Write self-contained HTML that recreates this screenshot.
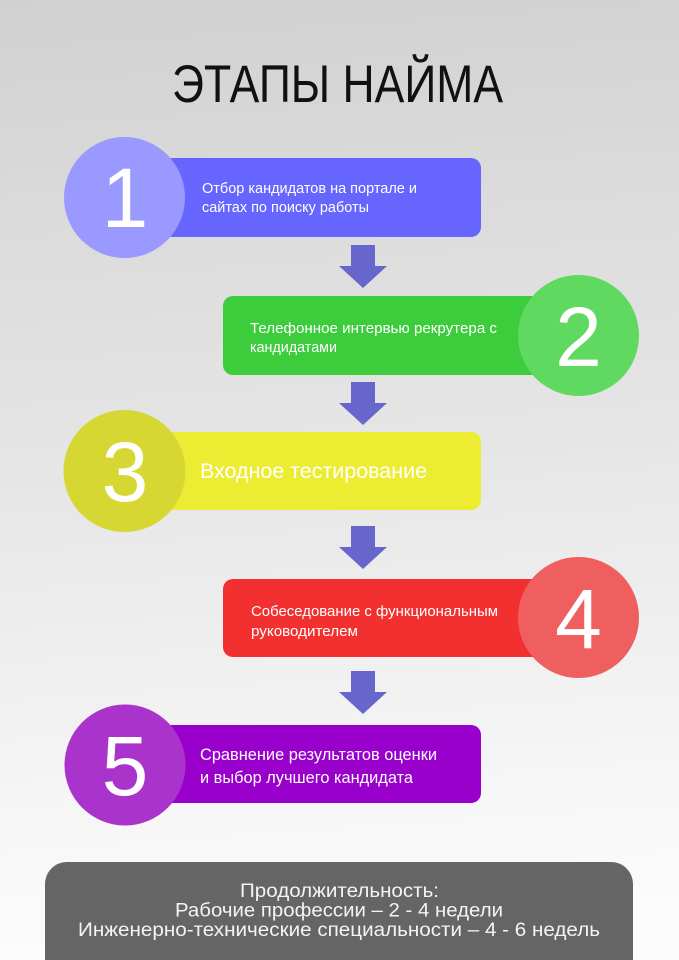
<!DOCTYPE html>
<html>
<head>
<meta charset="utf-8">
<style>
html,body{margin:0;padding:0;background:#e6e6e6;}
body{width:679px;height:960px;overflow:hidden;}
svg{display:block;}
text{font-family:"Liberation Sans","Noto Sans CJK JP",sans-serif;}
</style>
</head>
<body>
<svg width="679" height="960" viewBox="0 0 679 960" xmlns="http://www.w3.org/2000/svg">
  <defs>
    <linearGradient id="bg" x1="0" y1="0" x2="0.05" y2="1">
      <stop offset="0" stop-color="#d1d1d1"/>
      <stop offset="0.5" stop-color="#e6e6e6"/>
      <stop offset="0.8" stop-color="#f4f4f4"/>
      <stop offset="1" stop-color="#fcfcfc"/>
    </linearGradient>
  </defs>
  <rect x="0" y="0" width="679" height="960" fill="url(#bg)"/>

  <!-- Title -->
  <text x="172" y="102" font-size="53" fill="#111" textLength="331" lengthAdjust="spacingAndGlyphs">ЭТАПЫ НАЙМА</text>

  <!-- Step 1 -->
  <rect x="150" y="158" width="331" height="79" rx="10" fill="#6666ff"/>
  <circle cx="124.5" cy="197.5" r="60.5" fill="#9999ff"/>
  <text x="125" y="227" font-size="84" fill="#fff" text-anchor="middle">1</text>
  <text x="202" y="193" font-size="15" fill="#fff" textLength="215" lengthAdjust="spacingAndGlyphs">Отбор кандидатов на портале и</text>
  <text x="202" y="212" font-size="15" fill="#fff" textLength="167" lengthAdjust="spacingAndGlyphs">сайтах по поиску работы</text>

  <!-- Arrow 1 -->
  <polygon points="351,245 375,245 375,266 387,266 363,288 339,266 351,266" fill="#6666cc"/>

  <!-- Step 2 -->
  <rect x="223" y="296" width="350" height="79" rx="10" fill="#3ccc3c"/>
  <circle cx="578.5" cy="335.5" r="60.5" fill="#5fd95f"/>
  <text x="578.5" y="366" font-size="84" fill="#fff" text-anchor="middle">2</text>
  <text x="250" y="333" font-size="15" fill="#fff" textLength="247" lengthAdjust="spacingAndGlyphs">Телефонное интервью рекрутера с</text>
  <text x="250" y="352" font-size="15" fill="#fff" textLength="87" lengthAdjust="spacingAndGlyphs">кандидатами</text>

  <!-- Arrow 2 -->
  <polygon points="351,382 375,382 375,403 387,403 363,425 339,403 351,403" fill="#6666cc"/>

  <!-- Step 3 -->
  <rect x="150" y="432" width="331" height="78" rx="10" fill="#ecec33"/>
  <circle cx="124.5" cy="471" r="61" fill="#d7d733"/>
  <text x="125" y="501" font-size="84" fill="#fff" text-anchor="middle">3</text>
  <text x="200" y="478" font-size="21" fill="#fff" textLength="227" lengthAdjust="spacingAndGlyphs">Входное тестирование</text>

  <!-- Arrow 3 -->
  <polygon points="351,526 375,526 375,547 387,547 363,569 339,547 351,547" fill="#6666cc"/>

  <!-- Step 4 -->
  <rect x="223" y="579" width="350" height="78" rx="10" fill="#f23030"/>
  <circle cx="578.5" cy="617.5" r="60.5" fill="#f05f5f"/>
  <text x="578.5" y="648" font-size="84" fill="#fff" text-anchor="middle">4</text>
  <text x="251" y="616" font-size="15" fill="#fff" textLength="247" lengthAdjust="spacingAndGlyphs">Собеседование с функциональным</text>
  <text x="251" y="636" font-size="15" fill="#fff" textLength="107" lengthAdjust="spacingAndGlyphs">руководителем</text>

  <!-- Arrow 4 -->
  <polygon points="351,671 375,671 375,692 387,692 363,714 339,692 351,692" fill="#6666cc"/>

  <!-- Step 5 -->
  <rect x="150" y="725" width="331" height="78" rx="10" fill="#9900cc"/>
  <circle cx="125" cy="765" r="60.5" fill="#aa33cc"/>
  <text x="125" y="795" font-size="84" fill="#fff" text-anchor="middle">5</text>
  <text x="200" y="760" font-size="16.5" fill="#fff" textLength="237" lengthAdjust="spacingAndGlyphs">Сравнение результатов оценки</text>
  <text x="200" y="783" font-size="16.5" fill="#fff" textLength="213" lengthAdjust="spacingAndGlyphs">и выбор лучшего кандидата</text>

  <!-- Bottom box -->
  <rect x="45" y="862" width="588" height="130" rx="22" fill="#656565"/>
  <text x="240" y="897" font-size="19" fill="#f4f4f4" textLength="199" lengthAdjust="spacingAndGlyphs">Продолжительность:</text>
  <text x="175" y="916.5" font-size="19" fill="#f4f4f4" textLength="328" lengthAdjust="spacingAndGlyphs">Рабочие профессии – 2 - 4 недели</text>
  <text x="78" y="936" font-size="19" fill="#f4f4f4" textLength="522" lengthAdjust="spacingAndGlyphs">Инженерно-технические специальности – 4 - 6 недель</text>
</svg>
</body>
</html>
